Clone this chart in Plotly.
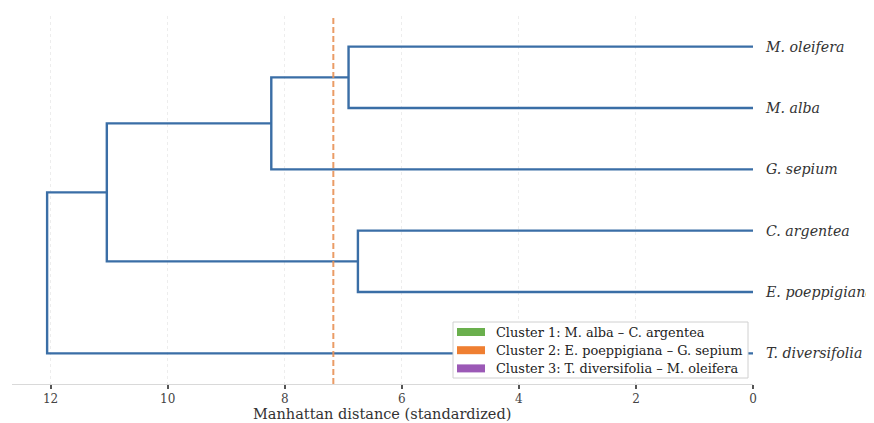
import plotly.graph_objects as go

# ---- data ----
leaf_labels = ["T. diversifolia", "E. poeppigiana", "C. argentea",
               "G. sepium", "M. alba", "M. oleifera"]  # bottom -> top
# merges: (left node, right node, distance); leaves 0..5, new nodes 6..
merge_left = [4, 2, 3, 7, 0]
merge_right = [5, 1, 6, 8, 9]
merge_dist = [6.91, 6.75, 8.23, 11.04, 12.06]
cut_threshold = 7.17
cluster_names = ["Cluster 1: M. alba – C. argentea",
                 "Cluster 2: E. poeppigiana – G. sepium",
                 "Cluster 3: T. diversifolia – M. oleifera"]
cluster_colors = ["#6aaf4d", "#ef7f32", "#9b59b6"]
x_ticks = [12, 10, 8, 6, 4, 2, 0]
x_title = "Manhattan distance (standardized)"

LINE_COLOR = "#3a6ea6"
FONT = "DejaVu Serif"

OFF = 8  # page body margin in the browser
W, H = 874 - OFF, 423 - OFF
ML, MR, MT, MB = 12 - OFF, 121, 16 - OFF, 39
PW, PH = W - ML - MR, H - MT - MB


def px2paper_x(px):  # px = screen pixel
    return (px - OFF - ML) / PW


def px2paper_y(py):
    return (H - MB - (py - OFF)) / PH


# node positions (y) and heights (x)
node_y = {i: 5 + 10 * i for i in range(len(leaf_labels))}
node_h = {i: 0.0 for i in range(len(leaf_labels))}

fig = go.Figure()

xs, ys = [], []
for k, (a, b, d) in enumerate(zip(merge_left, merge_right, merge_dist)):
    nid = len(leaf_labels) + k
    ya, yb = node_y[a], node_y[b]
    xs += [node_h[a], d, d, node_h[b], None]
    ys += [ya, ya, yb, yb, None]
    node_y[nid] = (ya + yb) / 2
    node_h[nid] = d

fig.add_trace(go.Scatter(x=xs, y=ys, mode="lines",
                         line=dict(color=LINE_COLOR, width=2.4),
                         showlegend=False, hoverinfo="skip"))

fig.add_trace(go.Scatter(x=[cut_threshold, cut_threshold], y=[0, 60], mode="lines",
                         line=dict(color="rgba(232,145,85,0.9)", width=2, dash="6px,3px"),
                         showlegend=False, hoverinfo="skip"))

# ---- manual legend (box, colour patches, real text) ----
shapes = [dict(type="rect", xref="paper", yref="paper", layer="above",
               x0=px2paper_x(453), x1=px2paper_x(748),
               y0=px2paper_y(378), y1=px2paper_y(322),
               fillcolor="white", line=dict(color="#d0d0d0", width=1))]
annotations = []
for i, (name, col) in enumerate(zip(cluster_names, cluster_colors)):
    cy = 332 + 18.2 * i
    shapes.append(dict(type="rect", xref="paper", yref="paper", layer="above",
                       x0=px2paper_x(457), x1=px2paper_x(485),
                       y0=px2paper_y(cy + 4), y1=px2paper_y(cy - 4),
                       fillcolor=col, line=dict(width=0)))
    annotations.append(dict(xref="paper", yref="paper", x=px2paper_x(494), y=px2paper_y(cy),
                            xanchor="left", yanchor="middle", showarrow=False, text=name,
                            font=dict(family=FONT, size=12.9, color="#222222")))

# x-axis title
annotations.append(dict(xref="paper", yref="paper", x=px2paper_x(382), y=px2paper_y(414),
                        xanchor="center", yanchor="middle", showarrow=False, text=x_title,
                        borderpad=0,
                        font=dict(family=FONT, size=14.5, color="#333333")))

fig.update_layout(
    width=W, height=H,
    margin=dict(l=ML, r=MR, t=MT, b=MB),
    paper_bgcolor="white", plot_bgcolor="white",
    font=dict(family=FONT, color="#333333"),
    showlegend=False,
    shapes=shapes, annotations=annotations,
    xaxis=dict(range=[12.66, 0], tickvals=x_ticks, ticktext=[str(v) for v in x_ticks],
               automargin=False,
               showgrid=True, gridcolor="#ededed", griddash="dot", gridwidth=1,
               zeroline=False, showline=True, linecolor="#d9d9d9", linewidth=1,
               ticks="outside", ticklen=4, tickwidth=1.5, tickcolor="#555555",
               ticklabelstandoff=0,
               tickfont=dict(family=FONT, size=12, color="#444444")),
    yaxis=dict(range=[0, 60], side="right", tickvals=[5 + 10 * i for i in range(len(leaf_labels))],
               automargin=False,
               ticktext=leaf_labels, showgrid=False, zeroline=False, showline=False,
               ticks="", ticklabelstandoff=12,
               tickfont=dict(family=FONT, size=14.2, color="#333333", style="italic")),
)

fig.write_html("out.html")
